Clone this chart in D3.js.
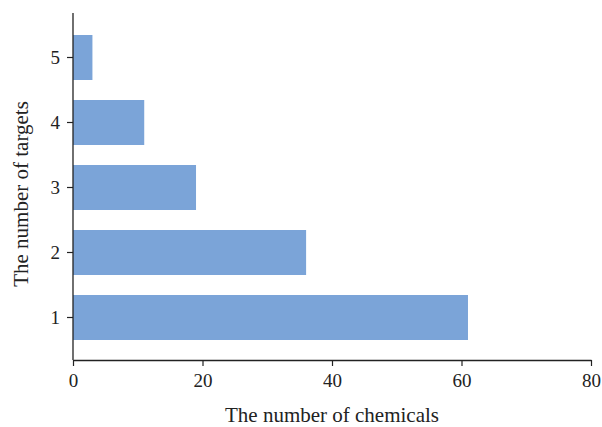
<!DOCTYPE html>
<html><head><meta charset="utf-8">
<script src="https://cdn.jsdelivr.net/npm/d3@7"></script>
<style>body{margin:0;background:#fff}svg{display:block}</style>
</head><body>
<script>
const categories = ["1","2","3","4","5"];
const values = [61, 36, 19, 11, 3];
const xTicks = [0, 20, 40, 60, 80];

const W = 602, H = 427;
const svg = d3.select("body").append("svg").attr("width", W).attr("height", H);
const font = "'Liberation Serif', 'DejaVu Serif', serif";

const x = d3.scaleLinear().domain([0, 80]).range([73, 591]);
const y = d3.scaleBand().domain(categories.slice().reverse()).range([25, 350])
  .paddingInner(20/65).paddingOuter(10/65);

svg.selectAll("rect.bar").data(categories).enter().append("rect")
  .attr("class","bar")
  .attr("x", x(0))
  .attr("y", d => y(d))
  .attr("width", (d,i) => x(values[i]) - x(0))
  .attr("height", y.bandwidth())
  .attr("fill", "#7ba4d8");

const xAxis = svg.append("g").attr("transform","translate(0,360)")
  .call(d3.axisBottom(x).tickValues(xTicks).tickSize(6).tickSizeOuter(0));
xAxis.select(".domain").attr("stroke","#222").attr("stroke-width",1.3);
xAxis.selectAll(".tick line").attr("stroke","#222").attr("stroke-width",1.2);
xAxis.selectAll(".tick text").attr("font-family",font).attr("font-size",19).attr("fill","#222")
  .attr("y",27).attr("dy",0);

const yAxis = svg.append("g").attr("transform","translate(73,0)")
  .call(d3.axisLeft(y).tickSize(6).tickSizeOuter(0));
yAxis.select(".domain").remove();
yAxis.append("line").attr("x1",0).attr("x2",0).attr("y1",13).attr("y2",360).attr("stroke","#222").attr("stroke-width",1.3);
yAxis.selectAll(".tick line").attr("stroke","#222").attr("stroke-width",1.2);
yAxis.selectAll(".tick text").attr("font-family",font).attr("font-size",19).attr("fill","#222").attr("x",-13);

svg.append("text").attr("x",332).attr("y",422).attr("text-anchor","middle")
  .attr("font-family",font).attr("font-size",21).attr("fill","#222")
  .text("The number of chemicals");
svg.append("text").attr("transform","translate(28,194) rotate(-90)").attr("text-anchor","middle")
  .attr("font-family",font).attr("font-size",21).attr("fill","#222")
  .text("The number of targets");
</script>
</body></html>
